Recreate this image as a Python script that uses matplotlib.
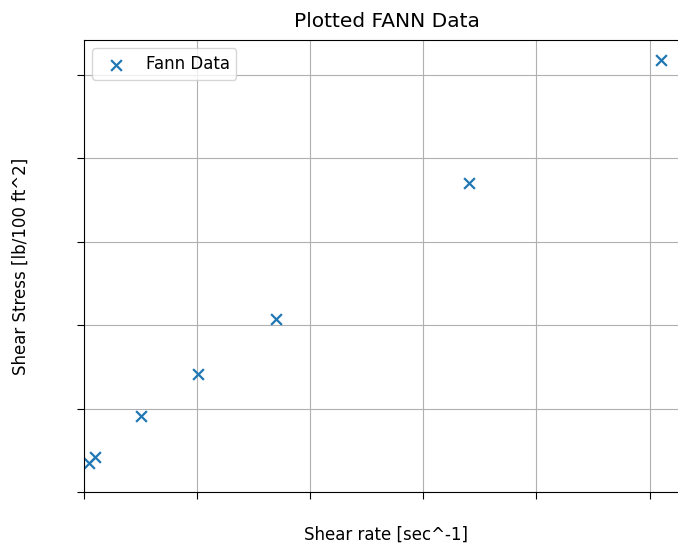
import matplotlib
matplotlib.use("Agg")
import matplotlib.pyplot as plt

shear_rate = [9.0, 19.5, 101.0, 202.0, 340.0, 681.0, 1021.0]
shear_stress = [6.9, 8.4, 18.2, 28.3, 41.4, 74.0, 103.5]
x_ticks = [0, 200, 400, 600, 800, 1000]
y_ticks = [0, 20, 40, 60, 80, 100]

fig = plt.figure(figsize=(6.78, 5.45), dpi=100)
ax = fig.add_axes([84/678, 53/545, 606/678, 452/545])
ax.scatter(shear_rate, shear_stress, marker='x', color='#1f77b4', s=60,
           linewidths=1.6, label='Fann Data')
ax.set_xlim(0, 1071.6)
ax.set_ylim(0, 108.3)
ax.set_xticks(x_ticks)
ax.set_yticks(y_ticks)
ax.tick_params(labelbottom=False, labelleft=False, length=5)
ax.grid(True, color='#b0b0b0', linewidth=0.8)
ax.set_axisbelow(True)
ax.set_title('Plotted FANN Data', fontsize=14.5, pad=9.5)
ax.set_xlabel('Shear rate [sec^-1]', fontsize=12)
ax.set_ylabel('Shear Stress [lb/100 ft^2]', fontsize=12)
ax.xaxis.set_label_coords((386 - 84) / 606, -(535 - 492) / 452)
ax.yaxis.set_label_coords((21 - 84) / 606, (492 - 266) / 452)
ax.xaxis.label.set_va('center')
ax.yaxis.label.set_va('center')
ax.legend(loc='upper left', fontsize=12)
fig.savefig('out.png', dpi=100)
